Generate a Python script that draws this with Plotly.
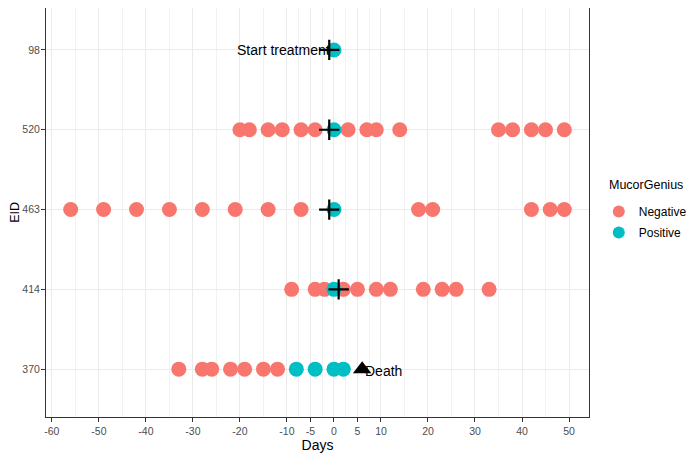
import plotly.graph_objects as go

# ---- data ----
eid_order = ["370", "414", "463", "520", "98"]  # bottom -> top

neg_eid = (["520"] * 15 + ["463"] * 13 + ["414"] * 11 + ["370"] * 7)
neg_days = ([-20, -18, -14, -11, -7, -4, 3, 7, 9, 14, 35, 38, 42, 45, 49]
            + [-56, -49, -42, -35, -28, -21, -14, -7, 18, 21, 42, 46, 49]
            + [-9, -4, -2, 2, 5, 9, 12, 19, 23, 26, 33]
            + [-33, -28, -26, -22, -19, -15, -12])

pos_eid = ["98", "520", "463", "414", "370", "370", "370", "370"]
pos_days = [0, 0, 0, 0, -8, -4, 0, 2]

treat_eid = ["98", "520", "463", "414"]
treat_days = [-1, -1, -1, 1]

death_eid = ["370"]
death_days = [6]

start_label = "Start treatment"
start_label_eid = "98"
start_label_day = -1
death_label = "Death"
death_label_eid = "370"
death_label_day = 6

legend_title = "MucorGenius"
x_title = "Days"
y_title = "EID"

x_ticks = [-60, -50, -40, -30, -20, -10, -5, 0, 5, 10, 20, 30, 40, 50]
x_minor = [-55, -45, -35, -25, -15, -7.5, -2.5, 2.5, 7.5, 15, 25, 35, 45]

RED = "#F8766D"
CYAN = "#00BFC4"
FONT = "Liberation Sans, Arial, sans-serif"

fig = go.Figure()
fig.add_trace(go.Scatter(x=neg_days, y=neg_eid, mode="markers", name="Negative",
                         legendgroup="neg",
                         marker=dict(color=RED, size=15, line=dict(width=0))))
fig.add_trace(go.Scatter(x=pos_days, y=pos_eid, mode="markers", name="Positive",
                         legendgroup="pos",
                         marker=dict(color=CYAN, size=15, line=dict(width=0))))
fig.add_trace(go.Scatter(x=treat_days, y=treat_eid, mode="markers", showlegend=False,
                         marker=dict(symbol="cross-thin", size=14.5,
                                     line=dict(color="black", width=2.2))))
fig.add_trace(go.Scatter(x=death_days, y=death_eid, mode="markers", showlegend=False,
                         marker=dict(symbol="triangle-up", size=16, color="black")))

fig.add_annotation(x=start_label_day, y=eid_order.index(start_label_eid), text=start_label,
                   showarrow=False, xanchor="right", yanchor="middle", xshift=3,
                   font=dict(size=14, color="black", family=FONT))
fig.add_annotation(x=death_label_day, y=eid_order.index(death_label_eid), text=death_label,
                   showarrow=False, xanchor="left", yanchor="middle", yshift=-2, xshift=1,
                   font=dict(size=14, color="black", family=FONT))
fig.add_annotation(x=1.033, y=0.567, xref="paper", yref="paper", text=legend_title,
                   showarrow=False, xanchor="left", yanchor="middle",
                   font=dict(size=12.5, color="black", family=FONT))
# y-axis title placed as rotated text left of the tick labels
fig.add_annotation(x=-0.0585, y=0.5, xref="paper", yref="paper", text=y_title,
                   showarrow=False, xanchor="center", yanchor="middle", textangle=-90,
                   borderpad=0,
                   font=dict(size=12.5, color="black", family=FONT))

fig.update_layout(
    width=687, height=448,
    margin=dict(l=38, r=106, t=0, b=39),
    plot_bgcolor="white", paper_bgcolor="white",
    font=dict(family=FONT, size=12, color="black"),
    showlegend=True,
    legend=dict(x=1.018, xanchor="left", y=0.538, yanchor="top",
                font=dict(size=12), itemsizing="constant",
                traceorder="grouped", tracegroupgap=2),
)
fig.update_xaxes(
    range=[-61.25, 54.25], tickmode="array", tickvals=x_ticks,
    ticktext=[str(v) for v in x_ticks],
    showgrid=True, gridcolor="#EBEBEB", gridwidth=1,
    minor=dict(tickvals=x_minor, showgrid=True, gridcolor="#F2F2F2", gridwidth=0.6, ticks=""),
    zeroline=False, showline=True, mirror=True, linecolor="#333333", linewidth=1,
    ticks="outside", ticklen=4, tickcolor="#333333",
    tickfont=dict(size=10.5, color="#4D4D4D"),
    title=dict(text=x_title, font=dict(size=14), standoff=0),
    automargin=False,
)
fig.update_yaxes(
    type="category", categoryorder="array", categoryarray=eid_order,
    range=[-0.6, 4.526],
    showgrid=True, gridcolor="#EBEBEB", gridwidth=1,
    zeroline=False, showline=True, mirror=True, linecolor="#333333", linewidth=1,
    ticks="outside", ticklen=4, tickcolor="#333333",
    tickfont=dict(size=10.5, color="#4D4D4D"), ticklabelstandoff=-1,
    automargin=False,
)

fig.write_html("out.html")
